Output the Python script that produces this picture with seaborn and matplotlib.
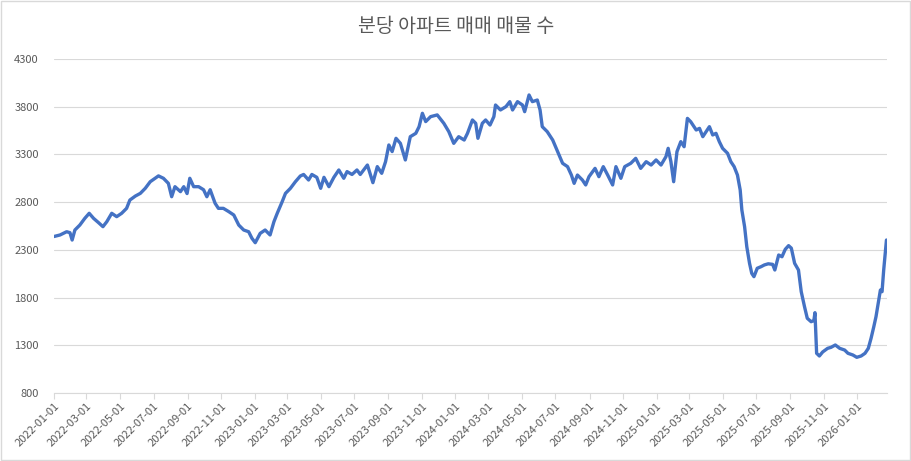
import numpy as np
import pandas as pd
import matplotlib
matplotlib.use("Agg")
import matplotlib.pyplot as plt
import matplotlib.dates as mdates
from matplotlib.patches import Rectangle
import seaborn as sns

# values (approximate, irregular dates)
dates = [
    "2022-01-01", "2022-01-12", "2022-01-24", "2022-01-30", "2022-02-03", "2022-02-08",
    "2022-02-17", "2022-02-26", "2022-03-06", "2022-03-14", "2022-03-23", "2022-03-31",
    "2022-04-07", "2022-04-16", "2022-04-25", "2022-05-04", "2022-05-13", "2022-05-19",
    "2022-05-29", "2022-06-07", "2022-06-16", "2022-06-25", "2022-07-04", "2022-07-10",
    "2022-07-19", "2022-07-28", "2022-08-03", "2022-08-09", "2022-08-19", "2022-08-25",
    "2022-08-31", "2022-09-05", "2022-09-12", "2022-09-21", "2022-09-30", "2022-10-06",
    "2022-10-12", "2022-10-21", "2022-10-27", "2022-11-05", "2022-11-15", "2022-11-24",
    "2022-12-03", "2022-12-12", "2022-12-21", "2022-12-27",
    "2023-01-02", "2023-01-11", "2023-01-20", "2023-01-29", "2023-02-05", "2023-02-11",
    "2023-02-20", "2023-02-26", "2023-03-07", "2023-03-16", "2023-03-25", "2023-03-31",
    "2023-04-09", "2023-04-15", "2023-04-24", "2023-05-01", "2023-05-07", "2023-05-16",
    "2023-05-25", "2023-06-03", "2023-06-12", "2023-06-18", "2023-06-27", "2023-07-06",
    "2023-07-12", "2023-07-25", "2023-08-04", "2023-08-12", "2023-08-20", "2023-08-27",
    "2023-09-02", "2023-09-08", "2023-09-15", "2023-09-23", "2023-10-02", "2023-10-11",
    "2023-10-21", "2023-10-27", "2023-11-02", "2023-11-08", "2023-11-17", "2023-11-29",
    "2023-12-11", "2023-12-20", "2023-12-29",
    "2024-01-07", "2024-01-17", "2024-01-23", "2024-02-01", "2024-02-07", "2024-02-11",
    "2024-02-19", "2024-02-25", "2024-03-04", "2024-03-11", "2024-03-14", "2024-03-23",
    "2024-04-02", "2024-04-09", "2024-04-14", "2024-04-23", "2024-05-02", "2024-05-06",
    "2024-05-14", "2024-05-20", "2024-05-29", "2024-06-03", "2024-06-07", "2024-06-16",
    "2024-06-26", "2024-07-05", "2024-07-14", "2024-07-23", "2024-07-30", "2024-08-04",
    "2024-08-10", "2024-08-19", "2024-08-25", "2024-08-31", "2024-09-11", "2024-09-18",
    "2024-09-26", "2024-10-04", "2024-10-13", "2024-10-19", "2024-10-28", "2024-11-04",
    "2024-11-15", "2024-11-24", "2024-12-03", "2024-12-13", "2024-12-22", "2024-12-31",
    "2025-01-09", "2025-01-18", "2025-01-22", "2025-01-27", "2025-02-01", "2025-02-07",
    "2025-02-14", "2025-02-20", "2025-02-26", "2025-03-04", "2025-03-14", "2025-03-20",
    "2025-03-26", "2025-04-01", "2025-04-07", "2025-04-13", "2025-04-19", "2025-04-25",
    "2025-05-01", "2025-05-10", "2025-05-16", "2025-05-22", "2025-05-28", "2025-06-02",
    "2025-06-05", "2025-06-10", "2025-06-14", "2025-06-19", "2025-06-23", "2025-06-27",
    "2025-07-03", "2025-07-10", "2025-07-16", "2025-07-23", "2025-07-31", "2025-08-04",
    "2025-08-11", "2025-08-17", "2025-08-23", "2025-08-29", "2025-09-03", "2025-09-09",
    "2025-09-16", "2025-09-21", "2025-09-27", "2025-10-02", "2025-10-09", "2025-10-14",
    "2025-10-16", "2025-10-19", "2025-10-24", "2025-10-30", "2025-11-08", "2025-11-14",
    "2025-11-22", "2025-11-30", "2025-12-09", "2025-12-15", "2025-12-24", "2025-12-31",
    "2026-01-08", "2026-01-15", "2026-01-21", "2026-01-26", "2026-01-31", "2026-02-04",
    "2026-02-09", "2026-02-12", "2026-02-15", "2026-02-18", "2026-02-23",
]
listings = [
    2440, 2456, 2490, 2480, 2403, 2508,
    2560, 2630, 2683, 2630, 2585, 2543,
    2595, 2683, 2648, 2683, 2735, 2822,
    2864, 2892, 2945, 3014, 3050, 3075,
    3050, 2997, 2857, 2962, 2910, 2962,
    2890, 3050, 2962, 2962, 2930, 2857,
    2930, 2788, 2735, 2735, 2700, 2665,
    2560, 2508, 2490, 2421,
    2375, 2473, 2508, 2456, 2595, 2683,
    2805, 2892, 2945, 3014, 3074, 3090,
    3032, 3090, 3060, 2945, 3060, 2962,
    3060, 3137, 3050, 3120, 3090, 3137,
    3090, 3189, 3004, 3172, 3102, 3224,
    3399, 3330, 3469, 3416, 3242, 3486,
    3521, 3591, 3731, 3644, 3696, 3714,
    3626, 3539, 3416,
    3486, 3451, 3521, 3661, 3626, 3469,
    3626, 3661, 3608, 3696, 3818, 3766,
    3801, 3853, 3766, 3853, 3818, 3748,
    3923, 3853, 3870, 3766, 3591, 3539,
    3451, 3329, 3207, 3172, 3084, 2997,
    3084, 3032, 2980, 3067, 3154, 3067,
    3172, 3084, 2980, 3172, 3050, 3172,
    3207, 3259, 3154, 3224, 3189, 3242,
    3189, 3277, 3364, 3224, 3014, 3329,
    3434, 3381, 3678, 3643, 3556, 3573,
    3486, 3539, 3591, 3504, 3521, 3434,
    3364, 3312, 3224, 3172, 3084, 2927,
    2718, 2543, 2333, 2159, 2054, 2019,
    2107, 2124, 2142, 2154, 2148, 2089,
    2246, 2228, 2306, 2344, 2318, 2159,
    2089, 1862, 1704, 1583, 1547, 1560,
    1642, 1216, 1188, 1230, 1268, 1278,
    1303, 1268, 1250, 1216, 1198, 1174,
    1188, 1216, 1268, 1373, 1495, 1600,
    1775, 1879, 1862, 2089, 2403,
]
yticks = [800, 1300, 1800, 2300, 2800, 3300, 3800, 4300]
title = "분당 아파트 매매 매물 수"

df = pd.DataFrame({"date": pd.to_datetime(dates), "count": listings})

sns.set_theme(style="white")
plt.rcParams["font.family"] = ["Noto Sans CJK KR", "DejaVu Sans"]

fig = plt.figure(figsize=(9.12, 4.61), dpi=100)
ax = fig.add_axes([54 / 912, 1 - 393 / 461, 833 / 912, 334 / 461])

sns.lineplot(data=df, x="date", y="count", ax=ax, color="#4472C4", linewidth=2.4)

ax.set_ylim(800, 4300)
ax.set_yticks(yticks)
ax.set_xlim(pd.Timestamp("2022-01-01"), pd.Timestamp("2026-02-24"))
ax.xaxis.set_major_locator(mdates.MonthLocator(bymonth=[1, 3, 5, 7, 9, 11]))
ax.xaxis.set_major_formatter(mdates.DateFormatter("%Y-%m-%d"))

ax.grid(axis="y", color="#D9D9D9", linewidth=0.8)
ax.set_axisbelow(True)
for s in ["top", "right", "left"]:
    ax.spines[s].set_visible(False)
ax.spines["bottom"].set_color("#D9D9D9")
ax.spines["bottom"].set_linewidth(0.8)

ax.tick_params(axis="x", length=4, width=0.8, color="#D9D9D9", labelsize=8,
               labelcolor="#595959", pad=2, bottom=True)
plt.setp(ax.get_xticklabels(), rotation=45, ha="right", rotation_mode="anchor")
ax.tick_params(axis="y", length=0, labelsize=8, labelcolor="#595959", pad=11)
ax.set_xlabel("")
ax.set_ylabel("")

fig.text(0.5, 1 - 27 / 461, title, ha="center", va="center", fontsize=14, color="#595959")
fig.patches.append(Rectangle((0.001, 0.002), 0.997, 0.996, transform=fig.transFigure,
                             fill=False, edgecolor="#D9D9D9", linewidth=1))

fig.savefig("out.png", dpi=100)
